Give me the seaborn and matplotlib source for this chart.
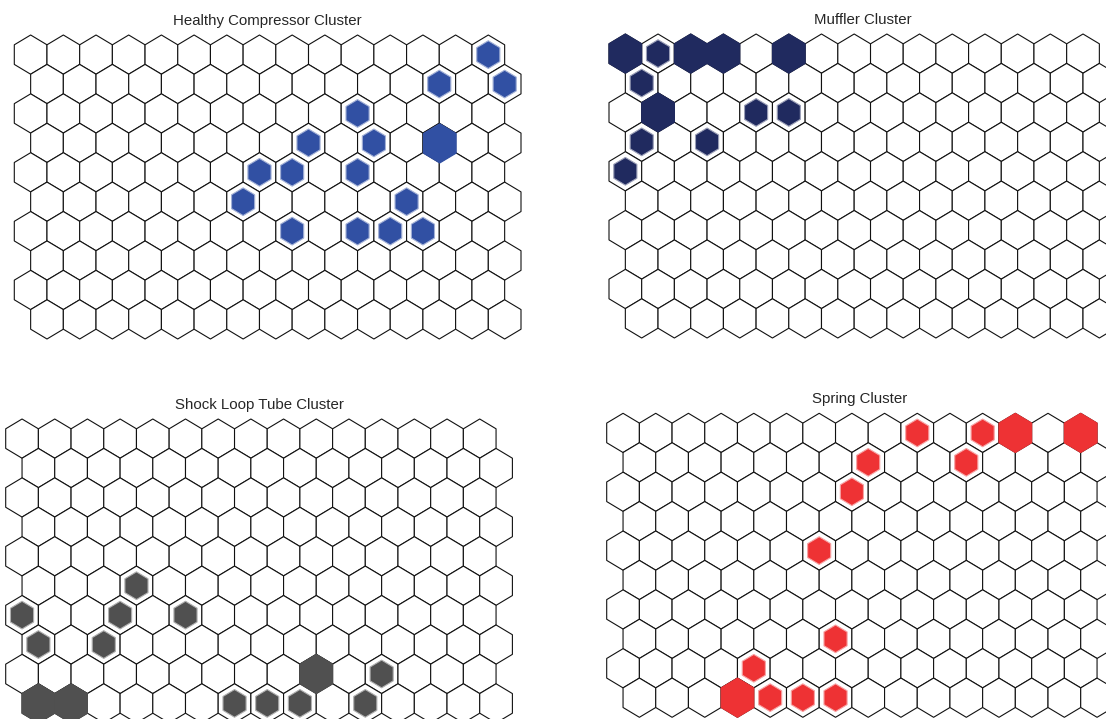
import numpy as np
import matplotlib
matplotlib.use("Agg")
import matplotlib.pyplot as plt
from matplotlib.collections import PolyCollection
import seaborn as sns

# ---------------- data (SOM hit maps, 15 x 10 hexagonal grid) ----------------
n_cols = 15
n_rows = 10

titles = ["Healthy Compressor Cluster", "Muffler Cluster",
          "Shock Loop Tube Cluster", "Spring Cluster"]

healthy_rows = [0, 1, 1, 2, 3, 3, 3, 4, 4, 4, 5, 5, 6, 6, 6, 6]
healthy_cols = [14, 12, 14, 10, 8, 10, 12, 7, 8, 10, 6, 11, 8, 10, 11, 12]
healthy_hits = [1, 1, 1, 1, 1, 1, 2, 1, 1, 1, 1, 1, 1, 1, 1, 1]

muffler_rows = [0, 0, 0, 0, 0, 1, 2, 2, 2, 3, 3, 4]
muffler_cols = [0, 1, 2, 3, 5, 0, 1, 4, 5, 0, 2, 0]
muffler_hits = [2, 1, 2, 2, 2, 1, 2, 1, 1, 1, 1, 1]

shock_rows = [5, 6, 6, 6, 7, 7, 8, 8, 9, 9, 9, 9, 9, 9]
shock_cols = [3, 0, 3, 5, 0, 2, 9, 11, 0, 1, 6, 7, 8, 10]
shock_hits = [1, 1, 1, 1, 1, 1, 2, 1, 2, 2, 1, 1, 1, 1]

spring_rows = [0, 0, 0, 0, 1, 1, 2, 4, 7, 8, 9, 9, 9, 9]
spring_cols = [9, 11, 12, 14, 7, 10, 7, 6, 6, 4, 3, 4, 5, 6]
spring_hits = [1, 1, 2, 2, 1, 1, 1, 1, 1, 1, 2, 1, 1, 1]

panel_colors = ["#3150A3", "#202A5F", "#505050", "#EE3234"]

# ---------------- style ----------------
sns.set_theme(style="white")
plt.rcParams['font.family'] = ['Liberation Sans', 'DejaVu Sans']

W, H = 1106, 719
fig = plt.figure(figsize=(W / 100, H / 100), dpi=100)
fig.patch.set_facecolor("white")

# pixel boxes (x0, y0, x1, y1) of each hex grid
boxes = [(14.3, 35.0, 521.0, 339.0),
         (609.0, 34.0, 1115.7, 338.0),
         (5.7, 419.0, 512.4, 723.0),
         (606.7, 413.3, 1113.4, 717.3)]

S32 = np.sqrt(3) / 2
RAD = 1 / np.sqrt(3)
ang = np.pi / 2 + np.arange(6) * np.pi / 3
UNIT = np.column_stack([np.cos(ang), np.sin(ang)]) * RAD


def center(r, c):
    return c + 0.5 * (r % 2), r * S32


def hexagon(r, c, scale=1.0):
    cx, cy = center(r, c)
    return UNIT * scale + np.array([cx, cy])


def lighten(col, f):
    rgb = np.array(matplotlib.colors.to_rgb(col))
    return tuple(rgb + (1 - rgb) * f)


hit_sets = [(healthy_rows, healthy_cols, healthy_hits),
            (muffler_rows, muffler_cols, muffler_hits),
            (shock_rows, shock_cols, shock_hits),
            (spring_rows, spring_cols, spring_hits)]

for (x0, y0, x1, y1), title, color, (rows, cols, hits) in zip(boxes, titles, panel_colors, hit_sets):
    ax = fig.add_axes([x0 / W, 1 - y1 / H, (x1 - x0) / W, (y1 - y0) / H])
    ax.set_xlim(-0.5, n_cols)
    ax.set_ylim((n_rows - 1) * S32 + RAD, -RAD)
    ax.set_axis_off()

    grid = [hexagon(r, c) for r in range(n_rows) for c in range(n_cols)]
    gc = PolyCollection(grid, facecolors="white", edgecolors="#111111",
                        linewidths=0.8, clip_on=False, zorder=1)
    ax.add_collection(gc)

    hmax = max(hits)
    full, small = [], []
    for r, c, h in zip(rows, cols, hits):
        s = np.sqrt(h / hmax)
        if h == hmax:
            full.append(hexagon(r, c, s))
        else:
            small.append(hexagon(r, c, s))
    ax.add_collection(PolyCollection(full, facecolors=color, edgecolors=color,
                                     linewidths=0.8, clip_on=False, zorder=2))
    ax.add_collection(PolyCollection(small, facecolors=color,
                                     edgecolors=lighten(color, 0.55),
                                     linewidths=0.8, clip_on=False, zorder=2))
    ax.set_title(title, fontsize=10.8, color="#262626", pad=7.5)

fig.savefig("out.png", dpi=100, facecolor="white")
